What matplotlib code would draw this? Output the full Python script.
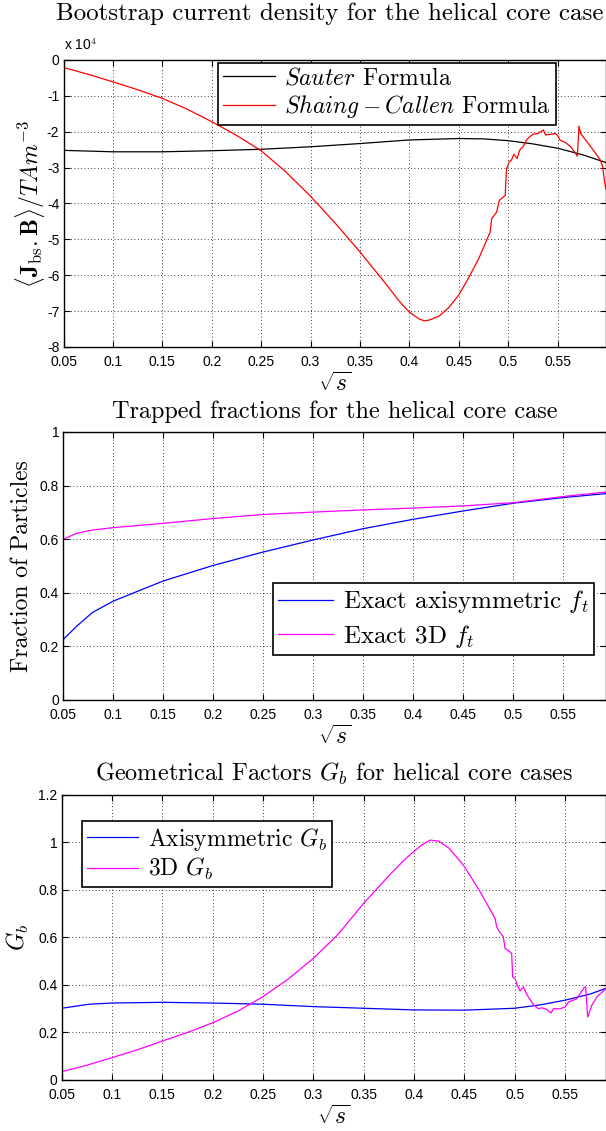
import matplotlib
matplotlib.use('Agg')
import matplotlib.pyplot as plt
from matplotlib.ticker import FormatStrFormatter, MultipleLocator

plt.rcParams['mathtext.fontset'] = 'cm'
plt.rcParams['font.family'] = ['Liberation Sans', 'DejaVu Sans']

SERIF = 'cmr10'

# ---------------------------------------------------------------------------
# Data
# ---------------------------------------------------------------------------

# Panel 1: bootstrap current density, in units of 1e4
sauter_s = [0.05, 0.1, 0.15, 0.2, 0.25, 0.3, 0.35, 0.4, 0.45, 0.475, 0.5,
            0.525, 0.55, 0.575, 0.599]
sauter_j = [-2.52, -2.56, -2.56, -2.53, -2.49, -2.42, -2.33, -2.23, -2.19,
            -2.20, -2.25, -2.34, -2.46, -2.64, -2.86]

shaing_s = [0.05, 0.075, 0.1, 0.125, 0.15, 0.175, 0.2, 0.225, 0.25, 0.275,
            0.3, 0.325, 0.35, 0.375, 0.39, 0.4, 0.41, 0.415, 0.42, 0.43,
            0.44, 0.45, 0.46, 0.47, 0.4817, 0.4833, 0.4883, 0.491, 0.495,
            0.497, 0.4983, 0.501, 0.5033, 0.5057, 0.509, 0.5117, 0.515,
            0.519, 0.525, 0.530, 0.5357, 0.5377, 0.5433, 0.548, 0.551,
            0.5523, 0.5583, 0.5633, 0.5683, 0.570, 0.5717, 0.5733, 0.5783,
            0.585, 0.5933, 0.5957, 0.5973, 0.599]
shaing_j = [-0.21, -0.40, -0.61, -0.83, -1.07, -1.37, -1.72, -2.10, -2.53,
            -3.12, -3.80, -4.55, -5.35, -6.20, -6.73, -7.03, -7.22, -7.27,
            -7.25, -7.14, -6.90, -6.55, -6.07, -5.55, -4.80, -4.43, -4.24,
            -3.92, -3.82, -3.78, -3.03, -2.84, -2.79, -2.63, -2.75, -2.51,
            -2.42, -2.21, -2.07, -2.05, -1.95, -2.09, -2.07, -2.05, -2.14,
            -2.23, -2.31, -2.42, -2.61, -2.68, -1.84, -2.05, -2.23, -2.47,
            -2.79, -2.98, -3.36, -3.60]

# Panel 2: trapped fractions
ft_s = [0.05, 0.0636, 0.079, 0.1, 0.15, 0.2, 0.25, 0.3, 0.35, 0.4, 0.45,
        0.5, 0.55, 0.596]
ft_axi = [0.226, 0.276, 0.326, 0.369, 0.444, 0.502, 0.552, 0.597, 0.639,
          0.674, 0.705, 0.734, 0.755, 0.771]
ft_3d = [0.600, 0.622, 0.634, 0.643, 0.659, 0.677, 0.692, 0.701, 0.709,
         0.716, 0.724, 0.736, 0.759, 0.777]

# Panel 3: geometrical factors
gb_axi_s = [0.05, 0.077, 0.1, 0.15, 0.2, 0.25, 0.3, 0.35, 0.4, 0.45, 0.5,
            0.525, 0.55, 0.575, 0.5907]
gb_axi = [0.302, 0.319, 0.324, 0.327, 0.324, 0.319, 0.309, 0.302, 0.295,
          0.294, 0.302, 0.316, 0.336, 0.362, 0.386]

gb_3d_s = [0.05, 0.075, 0.1, 0.125, 0.15, 0.175, 0.2, 0.225, 0.25, 0.275,
           0.3, 0.325, 0.35, 0.375, 0.39, 0.4, 0.408, 0.416, 0.425, 0.435,
           0.45, 0.4656, 0.4805, 0.4821, 0.4848, 0.4887, 0.4904, 0.4954,
           0.497, 0.498, 0.5003, 0.5026, 0.5053, 0.5086, 0.5126, 0.5185,
           0.5235, 0.5268, 0.5318, 0.5361, 0.5384, 0.545, 0.55, 0.5533,
           0.5616, 0.5689, 0.5705, 0.5715, 0.5725, 0.5765, 0.5815, 0.5881,
           0.5907]
gb_3d = [0.035, 0.062, 0.094, 0.127, 0.164, 0.200, 0.241, 0.290, 0.351,
         0.425, 0.512, 0.615, 0.744, 0.860, 0.925, 0.963, 0.990, 1.010,
         1.005, 0.975, 0.899, 0.793, 0.680, 0.645, 0.624, 0.603, 0.554,
         0.539, 0.532, 0.434, 0.427, 0.399, 0.375, 0.392, 0.356, 0.318,
         0.300, 0.304, 0.297, 0.282, 0.300, 0.300, 0.307, 0.328, 0.342,
         0.389, 0.392, 0.328, 0.265, 0.314, 0.349, 0.375, 0.385]

x_ticks = [0.05, 0.1, 0.15, 0.2, 0.25, 0.3, 0.35, 0.4, 0.45, 0.5, 0.55]


def style_axes(ax, xmax):
    ax.set_xlim(0.05, xmax)
    ax.set_xticks(x_ticks)
    ax.xaxis.set_major_formatter(FormatStrFormatter('%g'))
    ax.yaxis.set_major_formatter(FormatStrFormatter('%g'))
    ax.tick_params(direction='in', top=True, right=True, length=4,
                   width=0.8, labelsize=10)
    ax.tick_params(axis='x', pad=5.5)
    ax.tick_params(axis='y', pad=3)
    ax.grid(True, linestyle=(0, (1, 3)), color='k', linewidth=0.6)
    for sp in ax.spines.values():
        sp.set_linewidth(1.0)
    ax.set_xlabel(r'$\sqrt{s}$', fontsize=17, labelpad=3)


def make_legend(ax, loc, anchor, spacing=0.15, size=17):
    leg = ax.legend(loc=loc, bbox_to_anchor=anchor, borderaxespad=0,
                    fancybox=False, edgecolor='k', framealpha=1,
                    prop={'family': SERIF, 'size': size},
                    handlelength=2.2, handletextpad=0.4,
                    labelspacing=spacing, borderpad=0.2)
    leg.get_frame().set_linewidth(1.2)
    return leg


fig = plt.figure(figsize=(6.06, 11.31), dpi=100)

# ---------------------------------------------------------------------------
# Panel 1
# ---------------------------------------------------------------------------
ax1 = fig.add_axes([0.1048, 0.6932, 0.8952, 0.2538])
ax1.plot(sauter_s, sauter_j, color='k', lw=0.9, label=r'$Sauter$ Formula')
ax1.plot(shaing_s, shaing_j, color='#ff0000', lw=0.9,
         label=r'$Shaing-Callen$ Formula')
style_axes(ax1, 0.599)
ax1.set_ylim(-8, 0)
ax1.yaxis.set_major_locator(MultipleLocator(1))
ax1.set_title('Bootstrap current density for the helical core case',
              fontfamily=SERIF, fontsize=18, pad=29, x=0.49)
ax1.set_ylabel(r'$\langle\mathbf{J}_{\mathrm{bs}}.\mathbf{B}\rangle/TAm^{-3}$',
               fontsize=17, labelpad=0)
ax1.text(0.0, 1.025, r'x 10$^{\mathsf{4}}$', transform=ax1.transAxes,
         fontsize=10, ha='left', va='bottom')
make_legend(ax1, 'upper left', (0.285, 0.99))

# ---------------------------------------------------------------------------
# Panel 2
# ---------------------------------------------------------------------------
ax2 = fig.add_axes([0.1045, 0.3811, 0.8955, 0.2370])
ax2.plot(ft_s, ft_axi, color='#0000ff', lw=0.9,
         label=r'Exact axisymmetric $f_t$')
ax2.plot(ft_s, ft_3d, color='#ff00ff', lw=0.9, label=r'Exact 3D $f_t$')
style_axes(ax2, 0.593)
ax2.set_ylim(0, 1)
ax2.yaxis.set_major_locator(MultipleLocator(0.2))
ax2.set_title('Trapped fractions for the helical core case',
              fontfamily=SERIF, fontsize=17.5, pad=10)
ax2.set_ylabel('Fraction of Particles', fontfamily=SERIF, fontsize=17,
               labelpad=5)
make_legend(ax2, 'lower right', (0.978, 0.168), spacing=0.3, size=18)

# ---------------------------------------------------------------------------
# Panel 3
# ---------------------------------------------------------------------------
ax3 = fig.add_axes([0.1018, 0.0451, 0.8982, 0.2520])
ax3.plot(gb_axi_s, gb_axi, color='#0000ff', lw=0.9,
         label=r'Axisymmetric $G_b$')
ax3.plot(gb_3d_s, gb_3d, color='#ff00ff', lw=0.9, label=r'3D $G_b$')
style_axes(ax3, 0.5907)
ax3.set_ylim(0, 1.2)
ax3.yaxis.set_major_locator(MultipleLocator(0.2))
ax3.set_title(r'Geometrical Factors $G_b$ for helical core cases',
              fontfamily=SERIF, fontsize=17.5, pad=10)
ax3.set_ylabel(r'$G_b$', fontsize=17, labelpad=5)
make_legend(ax3, 'upper left', (0.037, 0.909))

fig.savefig('out.png', dpi=100)
